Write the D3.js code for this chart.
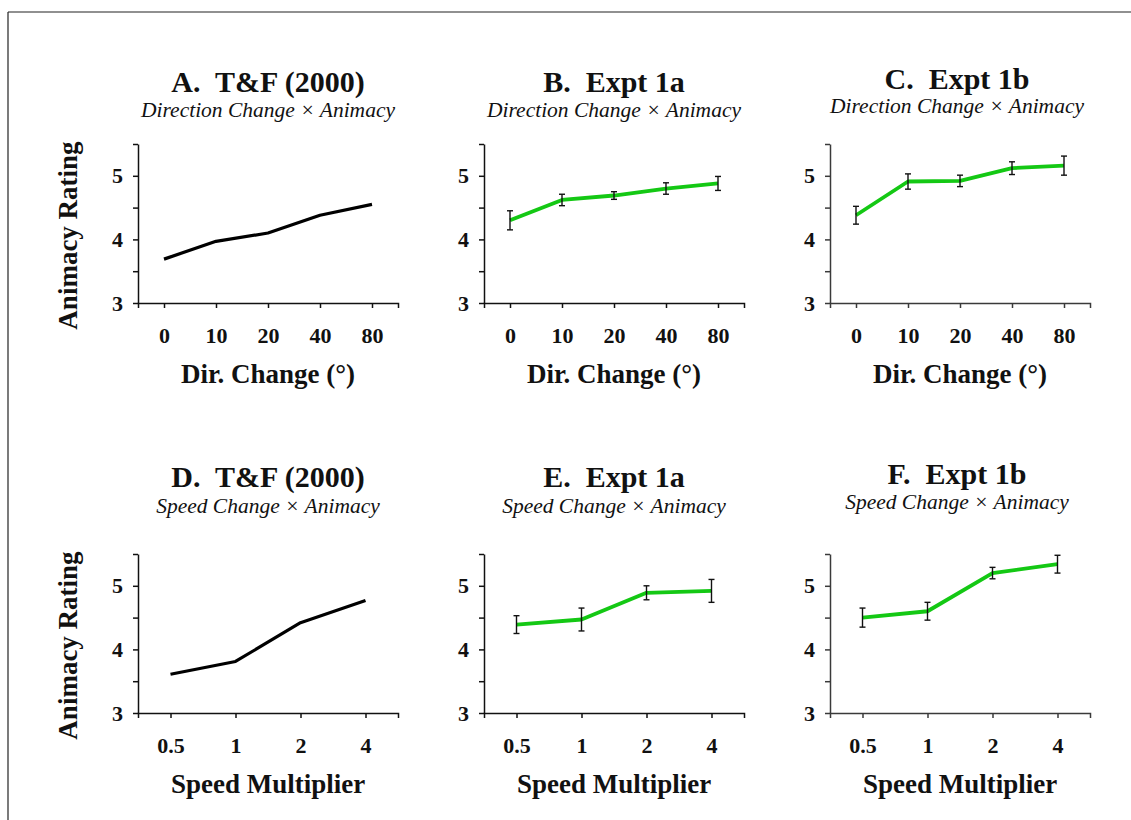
<!DOCTYPE html>
<html>
<head>
<meta charset="utf-8">
<script src="https://cdn.jsdelivr.net/npm/d3@7"></script>
<style>
  html, body { margin: 0; padding: 0; background: #fff; }
  svg { display: block; }
  text { font-family: "Liberation Serif", "Times New Roman", serif; fill: #111; }
</style>
</head>
<body>
<svg id="chart" width="1131" height="820"></svg>
<script>
// ---- data ----
const dirCats = ["0", "10", "20", "40", "80"];
const speedCats = ["0.5", "1", "2", "4"];
const yTickValues = [3, 3.5, 4, 4.5, 5, 5.5];
const yTickLabels = ["3", "", "4", "", "5", ""];

const tfDir = [3.69, 3.97, 4.10, 4.38, 4.55];
const e1aDir = [4.30, 4.62, 4.69, 4.80, 4.88];
const e1aDirErr = [0.15, 0.09, 0.06, 0.09, 0.11];
const e1bDir = [4.38, 4.91, 4.92, 5.12, 5.16];
const e1bDirErr = [0.14, 0.12, 0.09, 0.10, 0.15];

const tfSpeed = [3.61, 3.81, 4.42, 4.77];
const e1aSpeed = [4.39, 4.47, 4.89, 4.92];
const e1aSpeedErr = [0.14, 0.18, 0.11, 0.18];
const e1bSpeed = [4.50, 4.60, 5.20, 5.34];
const e1bSpeedErr = [0.15, 0.14, 0.09, 0.14];

const titles = ["A.  T&F (2000)", "B.  Expt 1a", "C.  Expt 1b", "D.  T&F (2000)", "E.  Expt 1a", "F.  Expt 1b"];
const subtitles = ["Direction Change × Animacy", "Speed Change × Animacy"];
const xLabels = ["Dir. Change (°)", "Speed Multiplier"];
const yLabel = "Animacy Rating";

// ---- layout ----
const svg = d3.select("#chart");
const colX = [138, 484, 830];
const rowTop = [144, 554];
const pw = 260, ph = 159;
const titleBase = [92, 487];
const subBase = [117, 513];
const colTitleDx = [0, 0, -3], colTitleDy = [0, 0, -3], colSubDy = [0, 0, -4];
const axisColor = ["#111", "#111", "#3a3a3a"];
const green = "#14c814";

// frame (top and left lines)
svg.append("line").attr("x1", 8).attr("y1", 12).attr("x2", 1131).attr("y2", 12)
  .attr("stroke", "#222").attr("stroke-width", 1.2);
svg.append("line").attr("x1", 8).attr("y1", 12).attr("x2", 8).attr("y2", 820)
  .attr("stroke", "#222").attr("stroke-width", 1.2);

const panels = [
  {row: 0, col: 0, cats: dirCats, vals: tfDir, err: null},
  {row: 0, col: 1, cats: dirCats, vals: e1aDir, err: e1aDirErr},
  {row: 0, col: 2, cats: dirCats, vals: e1bDir, err: e1bDirErr},
  {row: 1, col: 0, cats: speedCats, vals: tfSpeed, err: null},
  {row: 1, col: 1, cats: speedCats, vals: e1aSpeed, err: e1aSpeedErr},
  {row: 1, col: 2, cats: speedCats, vals: e1bSpeed, err: e1bSpeedErr},
];

panels.forEach((p, i) => {
  const ox = colX[p.col], oy = rowTop[p.row];
  const g = svg.append("g").attr("transform", `translate(${ox},${oy})`);
  const x = d3.scalePoint().domain(p.cats).range([0, pw]).padding(0.5);
  const y = d3.scaleLinear().domain([3, 5.5]).range([ph, 0]);
  const ac = axisColor[p.col];

  // titles
  svg.append("text")
    .attr("x", ox + pw / 2 + colTitleDx[p.col]).attr("y", titleBase[p.row] + colTitleDy[p.col])
    .attr("text-anchor", "middle").style("white-space", "pre")
    .attr("font-size", 30).attr("font-weight", "bold")
    .text(titles[i]);
  svg.append("text")
    .attr("x", ox + pw / 2 + colTitleDx[p.col]).attr("y", subBase[p.row] + colSubDy[p.col])
    .attr("text-anchor", "middle")
    .attr("font-size", 21.5).attr("font-style", "italic")
    .text(subtitles[p.row]);

  // y axis
  const ya = g.append("g")
    .call(d3.axisLeft(y).tickValues(yTickValues)
      .tickFormat((d, k) => yTickLabels[k]).tickSize(5).tickSizeOuter(0).tickPadding(10));
  ya.select(".domain").attr("stroke", ac).attr("stroke-width", 1.5);
  ya.selectAll(".tick line").attr("stroke", ac).attr("stroke-width", 1.5);
  ya.selectAll(".tick text").attr("font-size", 22).attr("font-weight", "bold")
    .attr("font-family", "Liberation Serif, serif").attr("fill", "#111");

  // x axis
  const xa = g.append("g").attr("transform", `translate(0,${ph})`)
    .call(d3.axisBottom(x).tickSize(5).tickSizeOuter(5).tickPadding(0));
  xa.select(".domain").attr("stroke", ac).attr("stroke-width", 1.5);
  xa.selectAll(".tick line").attr("stroke", ac).attr("stroke-width", 1.5);
  xa.selectAll(".tick text").attr("font-size", 22).attr("font-weight", "bold")
    .attr("font-family", "Liberation Serif, serif").attr("fill", "#111")
    .attr("y", 40).attr("dy", 0);

  // x label
  g.append("text").attr("x", pw / 2).attr("y", ph + 80)
    .attr("text-anchor", "middle").attr("font-size", 27).attr("font-weight", "bold")
    .text(xLabels[p.row]);

  // y label
  if (p.col === 0) {
    svg.append("text")
      .attr("transform", `translate(77,${oy + ph / 2 + 12}) rotate(-90)`)
      .attr("text-anchor", "middle").attr("font-size", 27).attr("font-weight", "bold")
      .text(yLabel);
  }

  // line
  const line = d3.line().x((d, k) => x(p.cats[k])).y(d => y(d));
  g.append("path").datum(p.vals).attr("d", line)
    .attr("fill", "none")
    .attr("stroke", p.err ? green : "#000")
    .attr("stroke-width", p.err ? 3.8 : 3.2)
    .attr("stroke-linejoin", "round");

  // error bars
  if (p.err) {
    const eb = g.append("g").attr("stroke", "#111").attr("stroke-width", 1.4);
    p.vals.forEach((v, k) => {
      const cx = x(p.cats[k]);
      const y1 = y(v + p.err[k]), y2 = y(v - p.err[k]);
      eb.append("line").attr("x1", cx).attr("x2", cx).attr("y1", y1).attr("y2", y2);
      eb.append("line").attr("x1", cx - 3).attr("x2", cx + 3).attr("y1", y1).attr("y2", y1);
      eb.append("line").attr("x1", cx - 3).attr("x2", cx + 3).attr("y1", y2).attr("y2", y2);
    });
  }
});
</script>
</body>
</html>
